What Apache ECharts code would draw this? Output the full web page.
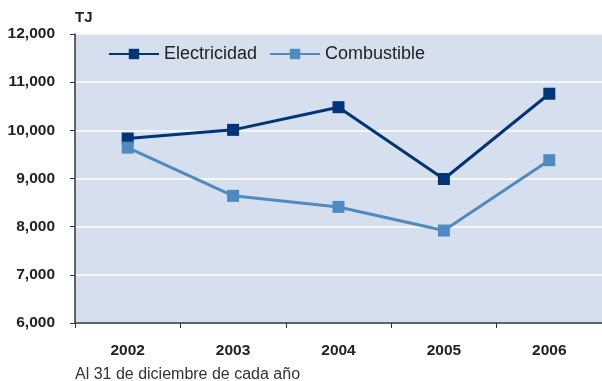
<!DOCTYPE html>
<html lang="es">
<head>
    <meta charset="UTF-8">
    <title>Consumo de energía (TJ)</title>
    <script src="https://cdn.jsdelivr.net/npm/echarts@6/dist/echarts.min.js"></script>
    <style>
        html, body { margin: 0; padding: 0; background: #fff; }
        #main { width: 602px; height: 381px; }
    </style>
</head>
<body>
    <div id="main"></div>
    <script>
        // datos
        const years = ['2002', '2003', '2004', '2005', '2006'];
        const electricidad = [9830, 10010, 10480, 8990, 10760];
        const combustible = [9640, 8640, 8410, 7920, 9380];

        const labelFont = '"Liberation Sans", Arial, sans-serif';

        const myChart = echarts.init(document.getElementById('main'));

        myChart.setOption({
            animation: false,
            grid: {
                left: 75, right: -3, top: 34, bottom: 58,
                show: true,
                backgroundColor: '#d6dfee',
                borderWidth: 0
            },
            legend: {
                left: 103, top: 40,
                itemWidth: 50, itemHeight: 13,
                itemGap: 12,
                textStyle: { fontSize: 18, color: '#222', fontFamily: labelFont },
                data: ['Electricidad', 'Combustible']
            },
            xAxis: {
                type: 'category',
                data: years,
                boundaryGap: true,
                axisLine: { lineStyle: { color: '#333', width: 1.5 } },
                axisTick: { show: true, length: 5, lineStyle: { color: '#333' } },
                axisLabel: {
                    margin: 20,
                    color: '#222',
                    fontWeight: 'bold',
                    fontSize: 15.5,
                    fontFamily: labelFont
                }
            },
            yAxis: {
                type: 'value',
                min: 6000, max: 12000, interval: 1000,
                name: 'TJ',
                nameLocation: 'end',
                nameGap: 9,
                nameTextStyle: {
                    align: 'left',
                    color: '#222',
                    fontWeight: 'bold',
                    fontSize: 15,
                    fontFamily: labelFont
                },
                axisLine: { show: true, lineStyle: { color: '#333', width: 1.5 } },
                axisTick: { show: true, length: 5, lineStyle: { color: '#333' } },
                splitLine: { lineStyle: { color: '#ffffff', width: 1.5 } },
                axisLabel: {
                    margin: 20,
                    color: '#222',
                    fontWeight: 'bold',
                    fontSize: 15.5,
                    fontFamily: labelFont,
                    formatter: v => v.toLocaleString('en-US')
                }
            },
            graphic: [{
                type: 'text',
                left: 75, top: 367,
                style: {
                    text: 'Al 31 de diciembre de cada año',
                    fontSize: 16,
                    fill: '#333',
                    fontFamily: labelFont
                }
            }],
            series: [{
                name: 'Electricidad',
                type: 'line',
                data: electricidad,
                symbol: 'rect',
                symbolSize: 12,
                itemStyle: { color: '#00357a' },
                lineStyle: { color: '#00357a', width: 3 }
            }, {
                name: 'Combustible',
                type: 'line',
                data: combustible,
                symbol: 'rect',
                symbolSize: 12,
                itemStyle: { color: '#4f8bc1' },
                lineStyle: { color: '#4f8bc1', width: 3 }
            }]
        });
    </script>
</body>
</html>
